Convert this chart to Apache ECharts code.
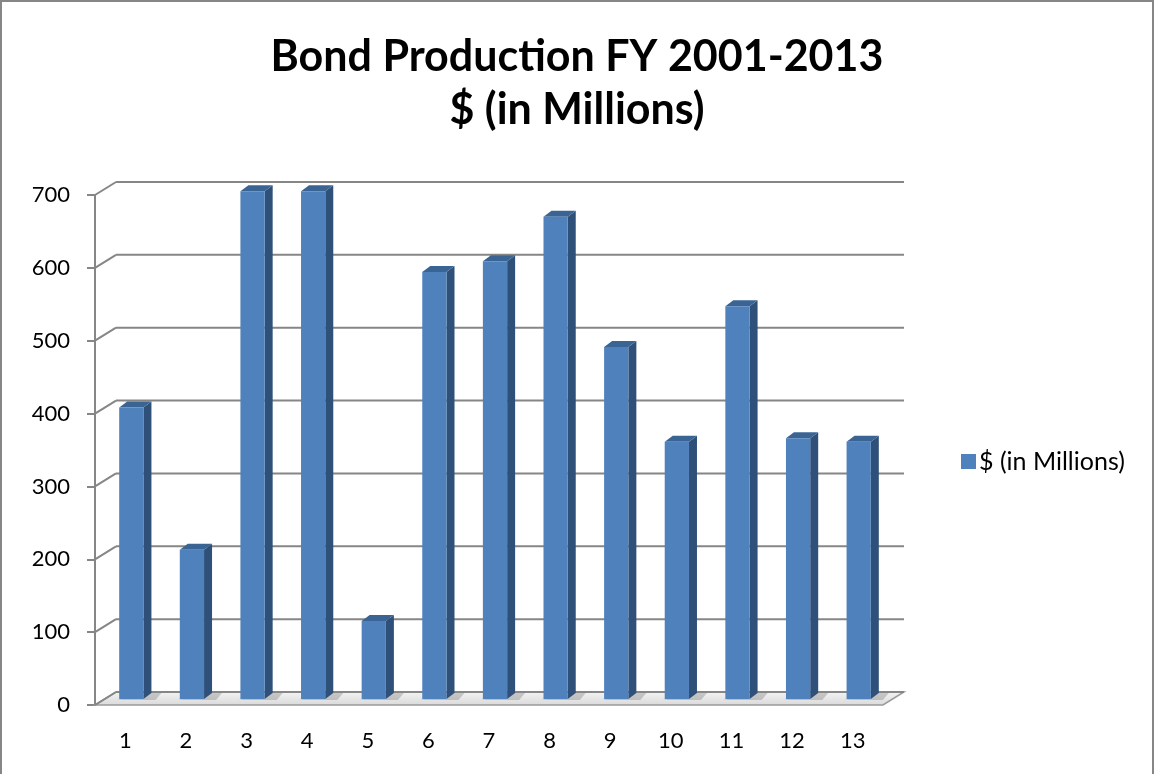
<!DOCTYPE html>
<html>
<head>
<meta charset="utf-8">
<script src="https://cdn.jsdelivr.net/npm/echarts@6/dist/echarts.min.js"></script>
<style>
html,body{margin:0;padding:0;background:#fff;}
#wrap{position:absolute;left:0;top:0;width:1154px;height:774px;box-sizing:border-box;border-left:2px solid #868686;border-top:2px solid #868686;border-right:2px solid #868686;}
#chart{position:absolute;left:0;top:0;width:1154px;height:774px;}
</style>
</head>
<body>
<div id="wrap"></div>
<div id="chart"></div>
<script>
const titleLines = ['Bond Production FY 2001-2013', '$ (in Millions)'];
const seriesName = '$ (in Millions)';
const categories = ['1','2','3','4','5','6','7','8','9','10','11','12','13'];
const values = [400, 205, 697, 697, 107, 586, 601, 662, 483, 353, 539, 358, 353];
const yTickValues = [0, 100, 200, 300, 400, 500, 600, 700];

const BACK_DX = 21, BACK_DY = -13;   // depth of the back wall
const BAR_DX = 6, BAR_DY = -6;       // position of bar front face in depth
const SIDE_DX = 8, SIDE_DY = -6;     // bar depth

const chart = echarts.init(document.getElementById('chart'), null, {renderer: 'canvas'});

function frameItem(params, api) {
  const v = api.value(0);
  const cs = params.coordSys;
  const y = api.coord([0, v])[1];
  const x0 = cs.x, x1 = cs.x + cs.width;
  const lineStyle = {stroke: '#868686', lineWidth: 2, fill: null};
  const children = [
    {type: 'line', shape: {x1: x0, y1: y, x2: x0 + BACK_DX, y2: y + BACK_DY}, style: lineStyle},
    {type: 'line', shape: {x1: x0 + BACK_DX, y1: y + BACK_DY, x2: x1 + BACK_DX, y2: y + BACK_DY}, style: lineStyle}
  ];
  if (v === 0) {
    children.unshift({
      type: 'polygon',
      shape: {points: [[x0, y], [x1, y], [x1 + BACK_DX, y + BACK_DY], [x0 + BACK_DX, y + BACK_DY]]},
      style: {
        fill: new echarts.graphic.LinearGradient(0, 0, 0, 1, [
          {offset: 0, color: '#f4f4f4'}, {offset: 1, color: '#d9d9d9'}
        ]),
        stroke: '#9a9a9a', lineWidth: 1.5
      }
    });
  }
  return {type: 'group', children: children};
}

function barItem(params, api) {
  const idx = api.value(0);
  const top = api.coord([idx, api.value(1)]);
  const base = api.coord([idx, 0]);
  const bw = api.size([1, 0])[0] * 0.4;
  const xl = top[0] - bw / 2 + BAR_DX;
  const xr = xl + bw;
  const yt = top[1] + BAR_DY;
  const yb = base[1] + BAR_DY;
  return {
    type: 'group',
    children: [
      {type: 'polygon', shape: {points: [[xl - 2, yb + 1], [xr + SIDE_DX + 4, yb + 1], [xr + SIDE_DX + 10, yb + SIDE_DY], [xr + SIDE_DX, yb + SIDE_DY]]},
       style: {fill: 'rgba(120,120,120,0.35)'}},
      {type: 'polygon', shape: {points: [[xr, yt], [xr + SIDE_DX, yt + SIDE_DY], [xr + SIDE_DX, yb + SIDE_DY], [xr, yb]]},
       style: {fill: '#2F5079'}},
      {type: 'polygon', shape: {points: [[xl, yt], [xl + SIDE_DX, yt + SIDE_DY], [xr + SIDE_DX, yt + SIDE_DY], [xr, yt]]},
       style: {fill: '#3A6494'}},
      {type: 'rect', shape: {x: xl, y: yt, width: bw, height: yb - yt},
       style: {fill: api.visual('color')}}
    ]
  };
}

const option = {
  animation: false,
  backgroundColor: 'transparent',
  title: {
    text: titleLines.join('\n'),
    left: 'center',
    top: 26,
    textStyle: {fontFamily: 'Lato', fontWeight: 'bold', fontSize: 43, lineHeight: 53, color: '#000'}
  },
  legend: {
    show: true,
    data: [seriesName],
    left: 956,
    top: 444,
    icon: 'rect',
    itemWidth: 15,
    itemHeight: 15,
    itemGap: 4,
    textStyle: {fontFamily: 'Lato', fontSize: 25, color: '#000', padding: [0, 0, 0, -2]}
  },
  grid: {left: 95, top: 195, width: 788, height: 510, containLabel: false},
  xAxis: {
    type: 'category',
    data: categories,
    axisLine: {show: false},
    axisTick: {show: false},
    axisLabel: {fontFamily: 'Lato', fontSize: 22, color: '#000', margin: 25},
    splitLine: {show: false}
  },
  yAxis: {
    type: 'value',
    min: 0, max: 700, interval: 100,
    axisLine: {show: true, lineStyle: {color: '#868686', width: 2}},
    axisTick: {show: true, length: 8, lineStyle: {color: '#868686', width: 2}},
    axisLabel: {fontFamily: 'Lato', fontSize: 22, color: '#000', margin: 25},
    splitLine: {show: false}
  },
  series: [
    {
      type: 'custom',
      name: 'frame',
      z: 1,
      silent: true,
      renderItem: frameItem,
      data: yTickValues.map(v => [v]),
      encode: {y: 0}
    },
    {
      type: 'custom',
      name: seriesName,
      z: 3,
      itemStyle: {color: '#4F81BD'},
      renderItem: barItem,
      data: values.map((v, i) => [i, v]),
      encode: {x: 0, y: 1}
    }
  ]
};
chart.setOption(option);
</script>
</body>
</html>
